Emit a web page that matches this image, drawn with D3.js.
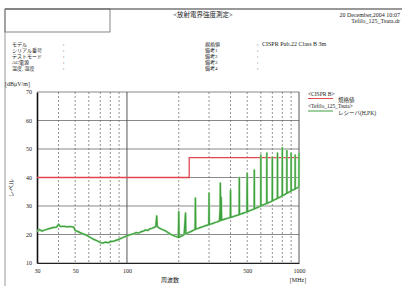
<!DOCTYPE html>
<html>
<head>
<meta charset="utf-8">
<script src="https://cdn.jsdelivr.net/npm/d3@7"></script>
<style>
  body { margin: 0; background: #fff; }
  text { font-family: "Liberation Serif", "Noto Sans CJK JP", serif; fill: #222; }
</style>
</head>
<body>
<script>
// chart values
const yTicks = [10, 20, 30, 40, 50, 60, 70];
const xTickLabels = [30, 50, 100, 500, 1000];
const dashedGrid = [40, 50, 60, 70, 80, 90, 200, 300, 400, 500, 600, 700, 800, 900];
const solidGrid = [100, 1000];

// CISPR 22 class B 3m limit [MHz, dBuV/m]
const limitLine = [[30, 40], [230, 40], [230, 47], [1000, 47]];

// receiver trace (peak) [MHz, dBuV/m]
const trace = [
  [30, 21.0], [31, 21.8], [32, 21.2], [33, 21.5], [35, 22.0], [37, 22.4], [39, 22.6],
  [40, 23.6], [41, 22.8], [43, 22.9], [45, 22.7], [47, 22.8], [49, 22.6], [50, 21.4],
  [52, 21.0], [55, 20.3], [58, 19.8], [61, 19.0], [64, 18.3], [67, 17.8], [70, 17.2],
  [72, 17.0], [75, 17.3], [78, 17.1], [80, 17.5], [84, 17.7], [88, 18.1], [92, 18.6],
  [97, 19.2], [100, 19.5], [104, 19.9], [109, 20.2], [113, 20.7], [117, 20.5], [121, 21.0],
  [125, 21.2], [128, 21.6], [132, 21.4], [136, 22.0], [140, 22.2], [144, 22.5], [147, 22.8],
  [149, 26.5], [150, 22.8], [153, 22.4], [157, 22.0], [163, 21.6], [168, 21.2], [174, 20.6],
  [180, 20.0], [185, 19.8], [190, 19.4], [195, 19.2], [199, 19.0], [200, 28.0], [201, 19.0],
  [205, 19.3], [210, 19.6], [215, 20.0], [219, 27.5], [220, 20.2], [225, 20.5], [230, 20.8],
  [235, 21.0], [240, 21.3], [245, 21.6], [249, 21.8], [250, 32.8], [251, 21.9], [258, 22.1],
  [265, 22.4], [272, 22.6], [280, 22.9], [287, 23.1], [294, 23.3], [299, 23.5], [300, 34.5],
  [301, 23.5], [308, 23.7], [316, 23.9], [325, 24.2], [333, 24.4], [340, 24.6], [345, 24.8],
  [348, 29.0], [349, 38.0], [351, 24.9], [353, 33.0], [355, 25.0], [362, 25.2], [370, 25.4],
  [380, 25.6], [390, 25.8], [399, 26.0], [400, 35.6], [401, 26.0], [410, 26.2], [420, 26.4],
  [430, 26.6], [440, 26.8], [449, 27.0], [450, 40.0], [451, 27.0], [460, 27.2], [470, 27.4],
  [480, 27.6], [490, 27.8], [498, 28.0], [500, 41.5], [502, 28.0], [510, 28.2], [520, 28.4],
  [530, 28.6], [540, 28.8], [549, 29.0], [550, 42.6], [551, 29.0], [560, 29.2], [575, 29.5],
  [590, 29.8], [599, 30.0], [600, 47.9], [601, 30.0], [615, 30.3], [630, 30.6], [649, 30.9],
  [650, 48.6], [651, 30.9], [665, 31.2], [680, 31.4], [699, 31.8], [700, 47.2], [701, 31.8],
  [720, 32.2], [735, 32.4], [749, 32.7], [750, 48.6], [751, 32.7], [770, 33.0], [785, 33.3],
  [799, 33.6], [800, 50.4], [801, 33.6], [820, 33.9], [835, 34.2], [849, 34.5], [850, 49.4],
  [851, 34.5], [870, 34.8], [885, 35.0], [899, 35.3], [900, 48.6], [901, 35.3], [920, 35.6],
  [935, 35.8], [949, 36.0], [950, 47.9], [951, 36.0], [970, 36.3], [985, 36.5], [999, 36.7],
  [1000, 48.6]
];

const headerLeft = ['モデル', 'シリアル番号', 'テストモード', 'AC電源', '温度, 湿度'];
const headerMid = ['規格値', '備考1', '備考2', '備考3', '備考4'];

const svg = d3.select('body')
  .append('svg')
  .attr('width', 404)
  .attr('height', 289);

// page frame
svg.append('line').attr('x1', 5).attr('x2', 402).attr('y1', 9).attr('y2', 9)
  .attr('stroke', '#999').attr('stroke-width', 2);
svg.append('line').attr('x1', 5).attr('x2', 5).attr('y1', 9).attr('y2', 286)
  .attr('stroke', '#999').attr('stroke-width', 1);
svg.append('rect').attr('x', 5).attr('y', 9).attr('width', 105).attr('height', 23)
  .attr('fill', 'none').attr('stroke', '#666').attr('stroke-width', 0.8);

// header texts
svg.append('text').attr('x', 203).attr('y', 17).attr('text-anchor', 'middle')
  .style('font-size', '6.5px').text('<放射電界強度測定>');
svg.append('text').attr('x', 400).attr('y', 17).attr('text-anchor', 'end')
  .style('font-size', '6px').text('20 December,2004 10:07');
svg.append('text').attr('x', 400).attr('y', 23).attr('text-anchor', 'end')
  .style('font-size', '6px').text('Tefilo_125_Tsuta.dr');

headerLeft.forEach(function(t, i) {
  svg.append('text').attr('x', 12).attr('y', 46 + i * 6)
    .style('font-size', '5px').text(t);
  svg.append('text').attr('x', 63).attr('y', 46 + i * 6)
    .style('font-size', '5px').text(':');
});
headerMid.forEach(function(t, i) {
  svg.append('text').attr('x', 205).attr('y', 46 + i * 6)
    .style('font-size', '5px').text(t);
  svg.append('text').attr('x', 257).attr('y', 46 + i * 6)
    .style('font-size', '5px').text(':');
});
svg.append('text').attr('x', 262).attr('y', 46)
  .style('font-size', '6px').text('CISPR Pub.22 Class B 3m');

// scales
const x = d3.scaleLog().domain([30, 1000]).range([37, 299]);
const y = d3.scaleLinear().domain([10, 70]).range([263, 92]);

// grid
svg.append('g').selectAll('line').data(yTicks).join('line')
  .attr('x1', x(30)).attr('x2', x(1000))
  .attr('y1', d => y(d)).attr('y2', d => y(d))
  .attr('stroke', '#8a8a8a').attr('stroke-width', 1.2);
svg.append('g').selectAll('line').data(dashedGrid).join('line')
  .attr('x1', d => x(d)).attr('x2', d => x(d))
  .attr('y1', y(70)).attr('y2', y(10))
  .attr('stroke', '#666').attr('stroke-width', 0.7).attr('stroke-dasharray', '2,2');
svg.append('g').selectAll('line').data(solidGrid).join('line')
  .attr('x1', d => x(d)).attr('x2', d => x(d))
  .attr('y1', y(70)).attr('y2', y(10))
  .attr('stroke', '#555').attr('stroke-width', 1);

// axes
const yAxis = d3.axisLeft(y).tickValues(yTicks).tickSize(0).tickPadding(5);
const gy = svg.append('g').attr('transform', 'translate(' + x(30) + ',0)').call(yAxis);
gy.select('.domain').attr('stroke', '#111').attr('stroke-width', 1.6);
gy.selectAll('text').style('font-size', '6px').style('font-family', '"Liberation Serif", serif');

const xAxis = d3.axisBottom(x).tickValues(xTickLabels).tickFormat(d3.format('d'))
  .tickSize(0).tickPadding(6);
const gx = svg.append('g').attr('transform', 'translate(0,' + y(10) + ')').call(xAxis);
gx.select('.domain').attr('stroke', '#222').attr('stroke-width', 1.2);
gx.selectAll('text').style('font-size', '6px').style('font-family', '"Liberation Serif", serif');

// axis titles
svg.append('text').attr('x', 5).attr('y', 86).style('font-size', '6px').text('[dBμV/m]');
svg.append('text').attr('transform', 'translate(13,188) rotate(-90)')
  .attr('text-anchor', 'middle').style('font-size', '6px').text('レベル');
svg.append('text').attr('x', 170).attr('y', 282).attr('text-anchor', 'middle')
  .style('font-size', '6px').text('周波数');
svg.append('text').attr('x', 298).attr('y', 282).attr('text-anchor', 'middle')
  .style('font-size', '6px').text('[MHz]');

// lines
const line = d3.line().x(d => x(d[0])).y(d => y(d[1]));
svg.append('path').attr('d', line(limitLine))
  .attr('fill', 'none').attr('stroke', '#e0484e').attr('stroke-width', 1.3);
svg.append('path').attr('d', line(trace))
  .attr('fill', 'none').attr('stroke', '#a6dca2').attr('stroke-width', 2.2)
  .attr('stroke-linejoin', 'round');
svg.append('path').attr('d', line(trace))
  .attr('fill', 'none').attr('stroke', '#3f9f3f').attr('stroke-width', 1.2)
  .attr('stroke-linejoin', 'round');

// legend
svg.append('text').attr('x', 308).attr('y', 96).style('font-size', '5.5px').text('<CISPR B>');
svg.append('line').attr('x1', 308).attr('x2', 333).attr('y1', 98.5).attr('y2', 98.5)
  .attr('stroke', '#e0484e').attr('stroke-width', 1);
svg.append('text').attr('x', 338).attr('y', 102).style('font-size', '5.5px').text('規格値');
svg.append('text').attr('x', 308).attr('y', 108).style('font-size', '5.5px').text('<Tefilo_125_Tsuta>');
svg.append('line').attr('x1', 308).attr('x2', 333).attr('y1', 111).attr('y2', 111)
  .attr('stroke', '#3f9f3f').attr('stroke-width', 1);
svg.append('text').attr('x', 338).attr('y', 115).style('font-size', '5.5px').text('レシーバ(H,PK)');
</script>
</body>
</html>
